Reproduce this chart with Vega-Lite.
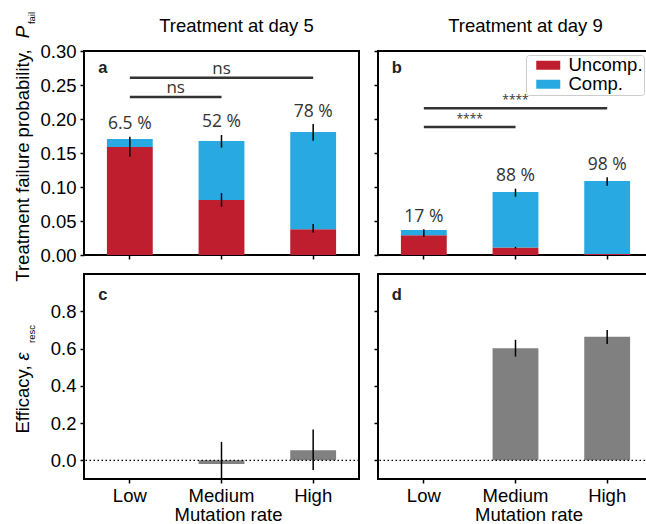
{
  "$schema": "https://vega.github.io/schema/vega-lite/v6.json",
  "padding": {"left": 12, "top": 10, "right": 0, "bottom": 0},
  "background": "white",
  "datasets": {
    "bars": [
      {"day": 5, "rate": "Low", "type": "Uncomp.", "value": 0.159},
      {"day": 5, "rate": "Low", "type": "Comp.", "value": 0.0116},
      {"day": 5, "rate": "Medium", "type": "Uncomp.", "value": 0.081},
      {"day": 5, "rate": "Medium", "type": "Comp.", "value": 0.0866},
      {"day": 5, "rate": "High", "type": "Uncomp.", "value": 0.038},
      {"day": 5, "rate": "High", "type": "Comp.", "value": 0.143},
      {"day": 9, "rate": "Low", "type": "Uncomp.", "value": 0.029},
      {"day": 9, "rate": "Low", "type": "Comp.", "value": 0.0078},
      {"day": 9, "rate": "Medium", "type": "Uncomp.", "value": 0.011},
      {"day": 9, "rate": "Medium", "type": "Comp.", "value": 0.0816},
      {"day": 9, "rate": "High", "type": "Uncomp.", "value": 0.0015},
      {"day": 9, "rate": "High", "type": "Comp.", "value": 0.1073}
    ],
    "errs": [
      {"day": 5, "rate": "Low", "lo": 0.145, "hi": 0.174},
      {"day": 5, "rate": "Medium", "lo": 0.071, "hi": 0.091},
      {"day": 5, "rate": "Medium", "lo": 0.158, "hi": 0.1765},
      {"day": 5, "rate": "High", "lo": 0.033, "hi": 0.0456},
      {"day": 5, "rate": "High", "lo": 0.168, "hi": 0.1926},
      {"day": 9, "rate": "Low", "lo": 0.027, "hi": 0.038},
      {"day": 9, "rate": "Medium", "lo": 0.0095, "hi": 0.012},
      {"day": 9, "rate": "Medium", "lo": 0.0857, "hi": 0.0975},
      {"day": 9, "rate": "High", "lo": 0.1019, "hi": 0.1143}
    ],
    "pct": [
      {"day": 5, "rate": "Low", "label": "6.5 %", "top": 0.174},
      {"day": 5, "rate": "Medium", "label": "52 %", "top": 0.1765},
      {"day": 5, "rate": "High", "label": "78 %", "top": 0.1926},
      {"day": 9, "rate": "Low", "label": "17 %", "top": 0.038},
      {"day": 9, "rate": "Medium", "label": "88 %", "top": 0.0975},
      {"day": 9, "rate": "High", "label": "98 %", "top": 0.1143}
    ],
    "sig": [
      {"day": 5, "from": "Low", "to": "High", "y": 0.2607, "label": "ns", "span": "long"},
      {"day": 5, "from": "Low", "to": "Medium", "y": 0.2324, "label": "ns", "span": "short"},
      {"day": 9, "from": "Low", "to": "High", "y": 0.2157, "label": "****", "span": "long"},
      {"day": 9, "from": "Low", "to": "Medium", "y": 0.1882, "label": "****", "span": "short"}
    ],
    "eff": [
      {"day": 5, "rate": "Medium", "value": -0.02, "lo": -0.115, "hi": 0.099},
      {"day": 5, "rate": "High", "value": 0.054, "lo": -0.052, "hi": 0.166},
      {"day": 9, "rate": "Medium", "value": 0.602, "lo": 0.557, "hi": 0.647},
      {"day": 9, "rate": "High", "value": 0.663, "lo": 0.624, "hi": 0.699}
    ],
    "letters": [
      {"panel": "a", "day": 5},
      {"panel": "b", "day": 9},
      {"panel": "c", "day": 5},
      {"panel": "d", "day": 9}
    ]
  },
  "columns": 2,
  "bounds": "flush",
  "spacing": {"column": 19, "row": 19},
  "resolve": {
    "scale": {"x": "independent", "y": "independent", "color": "independent"},
    "axis": {"x": "independent", "y": "independent"},
    "legend": {"color": "independent"}
  },
  "concat": [
    {
      "width": 275, "height": 204,
      "title": {"text": "Treatment at day 5", "dx": 15, "offset": -24},
      "resolve": {"axis": {"y": "independent"}},
      "layer": [
        {
          "data": {"name": "bars"}, "transform": [{"filter": "datum.day == 5"}],
          "mark": "bar",
          "encoding": {
            "x": {"field": "rate", "type": "nominal", "sort": null, "scale": {"domain": ["Low", "Medium", "High"], "paddingInner": 0.5, "paddingOuter": 0.25}, "axis": {"labels": false, "title": null}},
            "y": {"field": "value", "type": "quantitative", "stack": "zero", "scale": {"domain": [0, 0.3], "nice": false},
              "axis": {"orient": "left", "values": [0, 0.05, 0.1, 0.15, 0.2, 0.25, 0.3], "format": ".2f", "title": "Treatment failure probability,", "titleX": -55.5, "titleY": 114, "titleBaseline": "alphabetic"}},
            "color": {"field": "type", "type": "nominal", "scale": {"domain": ["Uncomp.", "Comp."], "range": ["#BE1E2D", "#29A9E1"]}, "legend": null},
            "order": {"field": "type", "sort": "descending"}
          }
        },
        {
          "data": {"name": "errs"}, "transform": [{"filter": "datum.day == 5"}],
          "mark": {"type": "rule", "color": "black", "strokeWidth": 1.5},
          "encoding": {
            "x": {"field": "rate", "type": "nominal", "axis": {"labels": false, "title": null}},
            "y": {"field": "lo", "type": "quantitative", "axis": null},
            "y2": {"field": "hi"}
          }
        },
        {
          "data": {"name": "pct"}, "transform": [{"filter": "datum.day == 5"}],
          "mark": {"type": "text", "font": "Open Sans", "fontSize": 17.5, "color": "#333333", "baseline": "alphabetic", "dy": -7.5},
          "encoding": {
            "x": {"field": "rate", "type": "nominal", "axis": {"labels": false, "title": null}},
            "y": {"field": "top", "type": "quantitative",
              "axis": {"orient": "left", "title": "P", "titleFontStyle": "italic", "titleX": -55.5, "titleY": -19.5, "titleBaseline": "alphabetic", "labels": false, "ticks": false, "domain": false, "grid": false}},
            "text": {"field": "label"}
          }
        },
        {
          "data": {"name": "sig"}, "transform": [{"filter": "datum.day == 5"}],
          "mark": {"type": "rule", "color": "#333333", "strokeWidth": 2.5},
          "encoding": {
            "x": {"field": "from", "type": "nominal", "axis": {"labels": false, "title": null}},
            "x2": {"field": "to"},
            "y": {"field": "y", "type": "quantitative",
              "axis": {"orient": "left", "title": "fail", "titleFontSize": 9.5, "titleX": -49.5, "titleY": -33.5, "titleBaseline": "alphabetic", "labels": false, "ticks": false, "domain": false, "grid": false}}
          }
        },
        {
          "data": {"name": "sig"}, "transform": [{"filter": "datum.day == 5 && datum.span == 'long'"}],
          "mark": {"type": "text", "font": "Open Sans", "fontSize": 17, "color": "#333333", "baseline": "alphabetic", "dy": -3.7},
          "encoding": {
            "x": {"field": "from", "type": "nominal", "bandPosition": 2.5, "axis": {"labels": false, "title": null}},
            "y": {"field": "y", "type": "quantitative", "axis": null},
            "text": {"field": "label"}
          }
        },
        {
          "data": {"name": "sig"}, "transform": [{"filter": "datum.day == 5 && datum.span == 'short'"}],
          "mark": {"type": "text", "font": "Open Sans", "fontSize": 17, "color": "#333333", "baseline": "alphabetic", "dy": -3.7},
          "encoding": {
            "x": {"field": "from", "type": "nominal", "bandPosition": 1.5, "axis": {"labels": false, "title": null}},
            "y": {"field": "y", "type": "quantitative", "axis": null},
            "text": {"field": "label"}
          }
        },
        {
          "data": {"name": "letters"}, "transform": [{"filter": "datum.panel == 'a'"}],
          "mark": {"type": "text", "fontWeight": "bold", "fontSize": 16.5, "baseline": "alphabetic", "align": "center", "dx": -4, "color": "#222222"},
          "encoding": {
            "x": {"datum": "Low", "bandPosition": 0, "axis": {"labels": false, "title": null}},
            "y": {"datum": 0.268, "type": "quantitative", "axis": null},
            "text": {"field": "panel"}
          }
        }
      ]
    },
    {
      "width": 275, "height": 204,
      "title": {"text": "Treatment at day 9", "dx": 10, "offset": 15},
      "layer": [
        {
          "data": {"name": "bars"}, "transform": [{"filter": "datum.day == 9"}],
          "mark": "bar",
          "encoding": {
            "x": {"field": "rate", "type": "nominal", "sort": null, "scale": {"domain": ["Low", "Medium", "High"], "paddingInner": 0.5, "paddingOuter": 0.25}, "axis": {"labels": false, "title": null}},
            "y": {"field": "value", "type": "quantitative", "stack": "zero", "scale": {"domain": [0, 0.3], "nice": false},
              "axis": {"values": [0, 0.05, 0.1, 0.15, 0.2, 0.25, 0.3], "labels": false, "title": null}},
            "color": {"field": "type", "type": "nominal", "scale": {"domain": ["Uncomp.", "Comp."], "range": ["#BE1E2D", "#29A9E1"]},
              "legend": {"orient": "none", "legendX": 148, "legendY": 4, "title": null, "symbolType": "M0,-0.5625H3V0.5625H0Z", "symbolSize": 256, "symbolStrokeWidth": 0, "symbolOpacity": 1, "labelFontSize": 18.5, "labelOffset": 23, "labelColor": "black", "labelLimit": 0, "padding": 1, "rowPadding": -10, "strokeColor": "#cccccc", "fillColor": "white", "cornerRadius": 3}},
            "order": {"field": "type", "sort": "descending"}
          }
        },
        {
          "data": {"name": "errs"}, "transform": [{"filter": "datum.day == 9"}],
          "mark": {"type": "rule", "color": "black", "strokeWidth": 1.5},
          "encoding": {
            "x": {"field": "rate", "type": "nominal", "axis": {"labels": false, "title": null}},
            "y": {"field": "lo", "type": "quantitative", "axis": {"values": [0, 0.05, 0.1, 0.15, 0.2, 0.25, 0.3], "labels": false, "title": null}},
            "y2": {"field": "hi"}
          }
        },
        {
          "data": {"name": "pct"}, "transform": [{"filter": "datum.day == 9"}],
          "mark": {"type": "text", "font": "Open Sans", "fontSize": 17.5, "color": "#333333", "baseline": "alphabetic", "dy": -7.5},
          "encoding": {
            "x": {"field": "rate", "type": "nominal", "axis": {"labels": false, "title": null}},
            "y": {"field": "top", "type": "quantitative", "axis": {"values": [0, 0.05, 0.1, 0.15, 0.2, 0.25, 0.3], "labels": false, "title": null}},
            "text": {"field": "label"}
          }
        },
        {
          "data": {"name": "sig"}, "transform": [{"filter": "datum.day == 9"}],
          "mark": {"type": "rule", "color": "#333333", "strokeWidth": 2.5},
          "encoding": {
            "x": {"field": "from", "type": "nominal", "axis": {"labels": false, "title": null}},
            "x2": {"field": "to"},
            "y": {"field": "y", "type": "quantitative", "axis": {"values": [0, 0.05, 0.1, 0.15, 0.2, 0.25, 0.3], "labels": false, "title": null}}
          }
        },
        {
          "data": {"name": "sig"}, "transform": [{"filter": "datum.day == 9 && datum.span == 'long'"}],
          "mark": {"type": "text", "font": "Open Sans", "fontSize": 12, "color": "#333333", "baseline": "alphabetic", "dy": -4},
          "encoding": {
            "x": {"field": "from", "type": "nominal", "bandPosition": 2.5, "axis": {"labels": false, "title": null}},
            "y": {"field": "y", "type": "quantitative", "axis": {"values": [0, 0.05, 0.1, 0.15, 0.2, 0.25, 0.3], "labels": false, "title": null}},
            "text": {"field": "label"}
          }
        },
        {
          "data": {"name": "sig"}, "transform": [{"filter": "datum.day == 9 && datum.span == 'short'"}],
          "mark": {"type": "text", "font": "Open Sans", "fontSize": 12, "color": "#333333", "baseline": "alphabetic", "dy": -4},
          "encoding": {
            "x": {"field": "from", "type": "nominal", "bandPosition": 1.5, "axis": {"labels": false, "title": null}},
            "y": {"field": "y", "type": "quantitative", "axis": {"values": [0, 0.05, 0.1, 0.15, 0.2, 0.25, 0.3], "labels": false, "title": null}},
            "text": {"field": "label"}
          }
        },
        {
          "data": {"name": "letters"}, "transform": [{"filter": "datum.panel == 'b'"}],
          "mark": {"type": "text", "fontWeight": "bold", "fontSize": 16.5, "baseline": "alphabetic", "align": "center", "dx": -4, "color": "#222222"},
          "encoding": {
            "x": {"datum": "Low", "bandPosition": 0, "axis": {"labels": false, "title": null}},
            "y": {"datum": 0.268, "type": "quantitative", "axis": {"values": [0, 0.05, 0.1, 0.15, 0.2, 0.25, 0.3], "labels": false, "title": null}},
            "text": {"field": "panel"}
          }
        }
      ]
    },
    {
      "width": 275, "height": 205,
      "resolve": {"axis": {"y": "independent"}},
      "layer": [
        {
          "data": {"name": "eff"}, "transform": [{"filter": "datum.day == 5"}],
          "mark": {"type": "bar", "color": "#808080"},
          "encoding": {
            "x": {"field": "rate", "type": "nominal", "sort": null, "scale": {"domain": ["Low", "Medium", "High"], "paddingInner": 0.5, "paddingOuter": 0.25}, "axis": {"title": "Mutation rate", "labelAngle": 0, "labelPadding": 3, "titlePadding": 1, "titleX": 144}},
            "y": {"field": "value", "type": "quantitative", "scale": {"domain": [-0.1, 1.0], "nice": false},
              "axis": {"orient": "left", "values": [0, 0.2, 0.4, 0.6, 0.8], "format": ".1f", "title": "Efficacy,", "titleX": -55.5, "titleY": 125, "titleBaseline": "alphabetic"}}
          }
        },
        {
          "data": {"name": "eff"}, "transform": [{"filter": "datum.day == 5"}],
          "mark": {"type": "rule", "color": "black", "strokeWidth": 1.5, "clip": true},
          "encoding": {
            "x": {"field": "rate", "type": "nominal", "axis": {"title": "Mutation rate", "labelAngle": 0, "labelPadding": 3, "titlePadding": 1, "titleX": 144}},
            "y": {"field": "lo", "type": "quantitative", "scale": {"domain": [-0.1, 1.0], "nice": false}, "axis": null},
            "y2": {"field": "hi"}
          }
        },
        {
          "data": {"name": "letters"}, "transform": [{"filter": "datum.panel == 'c'"}],
          "mark": {"type": "rule", "color": "black", "strokeWidth": 1.2, "strokeDash": [1.5, 2.5]},
          "encoding": {
            "y": {"datum": 0, "type": "quantitative",
              "axis": {"orient": "left", "title": "ε", "titleFontStyle": "italic", "titleX": -55.5, "titleY": 82, "titleBaseline": "alphabetic", "labels": false, "ticks": false, "domain": false, "grid": false}}
          }
        },
        {
          "data": {"name": "letters"}, "transform": [{"filter": "datum.panel == 'c'"}],
          "mark": {"type": "text", "fontWeight": "bold", "fontSize": 16.5, "baseline": "alphabetic", "align": "center", "dx": -4, "color": "#222222"},
          "encoding": {
            "x": {"datum": "Low", "bandPosition": 0, "axis": {"title": "Mutation rate", "labelAngle": 0, "labelPadding": 3, "titlePadding": 1, "titleX": 144}},
            "y": {"datum": 0.858, "type": "quantitative",
              "axis": {"orient": "left", "title": "resc", "titleFontSize": 9.5, "titleX": -49.5, "titleY": 59.5, "titleBaseline": "alphabetic", "labels": false, "ticks": false, "domain": false, "grid": false}},
            "text": {"field": "panel"}
          }
        }
      ]
    },
    {
      "width": 275, "height": 205,
      "layer": [
        {
          "data": {"name": "eff"}, "transform": [{"filter": "datum.day == 9"}],
          "mark": {"type": "bar", "color": "#808080"},
          "encoding": {
            "x": {"field": "rate", "type": "nominal", "sort": null, "scale": {"domain": ["Low", "Medium", "High"], "paddingInner": 0.5, "paddingOuter": 0.25}, "axis": {"title": "Mutation rate", "labelAngle": 0, "labelPadding": 3, "titlePadding": 1, "titleX": 150.5}},
            "y": {"field": "value", "type": "quantitative", "scale": {"domain": [-0.1, 1.0], "nice": false},
              "axis": {"values": [0, 0.2, 0.4, 0.6, 0.8], "labels": false, "title": null}}
          }
        },
        {
          "data": {"name": "eff"}, "transform": [{"filter": "datum.day == 9"}],
          "mark": {"type": "rule", "color": "black", "strokeWidth": 1.5, "clip": true},
          "encoding": {
            "x": {"field": "rate", "type": "nominal", "axis": {"title": "Mutation rate", "labelAngle": 0, "labelPadding": 3, "titlePadding": 1, "titleX": 150.5}},
            "y": {"field": "lo", "type": "quantitative", "axis": {"values": [0, 0.2, 0.4, 0.6, 0.8], "labels": false, "title": null}},
            "y2": {"field": "hi"}
          }
        },
        {
          "data": {"name": "letters"}, "transform": [{"filter": "datum.panel == 'd'"}],
          "mark": {"type": "rule", "color": "black", "strokeWidth": 1.2, "strokeDash": [1.5, 2.5]},
          "encoding": {
            "y": {"datum": 0, "type": "quantitative", "axis": {"values": [0, 0.2, 0.4, 0.6, 0.8], "labels": false, "title": null}}
          }
        },
        {
          "data": {"name": "letters"}, "transform": [{"filter": "datum.panel == 'd'"}],
          "mark": {"type": "text", "fontWeight": "bold", "fontSize": 16.5, "baseline": "alphabetic", "align": "center", "dx": -4, "color": "#222222"},
          "encoding": {
            "x": {"datum": "Low", "bandPosition": 0, "axis": {"title": "Mutation rate", "labelAngle": 0, "labelPadding": 3, "titlePadding": 1, "titleX": 150.5}},
            "y": {"datum": 0.858, "type": "quantitative", "axis": {"values": [0, 0.2, 0.4, 0.6, 0.8], "labels": false, "title": null}},
            "text": {"field": "panel"}
          }
        }
      ]
    }
  ],
  "config": {
    "font": "Liberation Sans",
    "view": {"stroke": "black", "strokeWidth": 2},
    "axis": {"domain": false, "grid": false, "tickColor": "black", "tickWidth": 1.5, "tickSize": 4, "labelPadding": 4, "labelFontSize": 18.5, "labelColor": "black", "labelFont": "Liberation Sans", "titleFontSize": 18.5, "titleColor": "black", "titleFontWeight": "normal", "titleFont": "Liberation Sans"},
    "title": {"fontSize": 18.5, "fontWeight": "normal", "color": "black", "font": "Liberation Sans"}
  }
}
